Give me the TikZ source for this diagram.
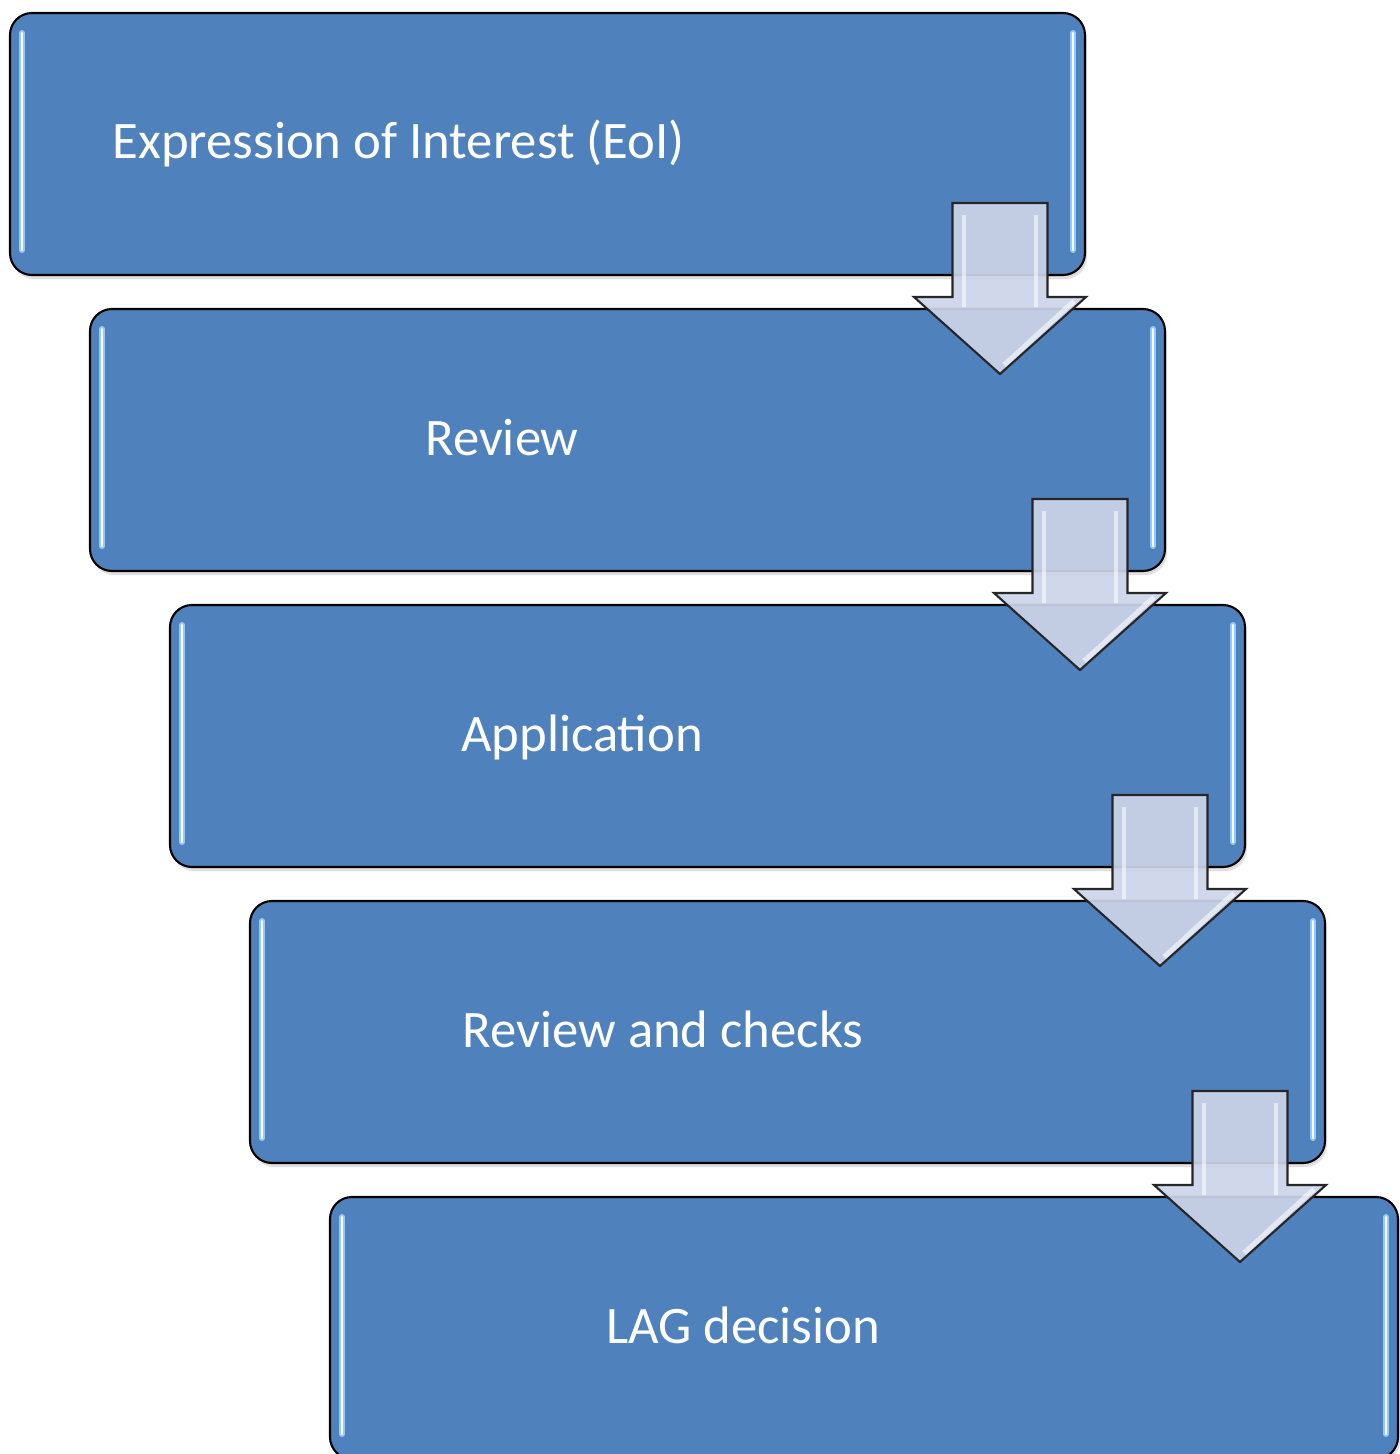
\documentclass[tikz,border=0pt]{standalone}
\usepackage{fontspec}
\setmainfont{Carlito}
\usepackage{tikz}
\usetikzlibrary{positioning,calc,shadows}

\definecolor{boxblue}{RGB}{79,129,189}
\definecolor{glossblue}{RGB}{150,200,250}
\definecolor{arrowfill}{RGB}{204,212,232}

% down arrow hanging at a coordinate on the lower edge of a box
\newcommand{\flowarrow}[1]{%
  \draw[flow] ($(#1)+(-0.475,0.72)$) -- ++(0.95,0) -- ++(0,-0.94) -- ++(0.385,0)
    -- ($(#1)+(0,-0.99)$) -- ($(#1)+(-0.86,-0.22)$) -- ++(0.385,0) -- cycle;
  \draw[shine] ($(#1)+(-0.36,0.6)$) -- ($(#1)+(-0.36,-0.32)$);
  \draw[shine] ($(#1)+(0.36,0.6)$) -- ($(#1)+(0.36,-0.32)$);
  \draw[shine] ($(#1)+(0.74,-0.26)$) -- ($(#1)+(0.04,-0.9)$);
}

\begin{document}
\begin{tikzpicture}[
  box/.style={draw=black, line width=0.6pt, rounded corners=0.22cm, fill=boxblue,
              minimum width=10.75cm, minimum height=2.62cm, outer sep=0pt,
              drop shadow={shadow xshift=0.02cm, shadow yshift=-0.04cm, opacity=0.25},
              path picture={
                \draw[gloss] ([xshift=0.12cm,yshift=-0.2cm]path picture bounding box.north west)
                  -- ([xshift=0.12cm,yshift=0.25cm]path picture bounding box.south west);
                \draw[gloss] ([xshift=-0.12cm,yshift=-0.2cm]path picture bounding box.north east)
                  -- ([xshift=-0.12cm,yshift=0.25cm]path picture bounding box.south east);
              }},
  gloss/.style={draw=glossblue, line width=1.7pt, line cap=round,
                postaction={draw=white, line width=0.6pt}},
  flow/.style={draw=black!85, line width=0.6pt, fill=arrowfill, fill opacity=0.92,
               line join=miter},
  shine/.style={draw=white, line width=1.4pt, opacity=0.55},
  lbl/.style={text=white, font=\fontsize{15}{18}\selectfont, inner sep=0pt}
]
  \useasboundingbox (0,0) rectangle (14,-14.54);

  % Step 1: EoI
  \node[box] (box1) at (5.475,-1.44) {};
  \node[lbl, anchor=base west] (t1) at ([xshift=1.02cm,yshift=-0.14cm]box1.west)
    {Expression of Interest (EoI)};

  % Step 2: review
  \node[box, below=0.34cm of box1, xshift=0.8cm] (box2) {};
  \node[lbl, anchor=base] (t2) at ([xshift=4.12cm,yshift=-0.15cm]box2.west) {Review};

  % Step 3: application
  \node[box, below=0.34cm of box2, xshift=0.8cm] (box3) {};
  \node[lbl, anchor=base] (t3) at ([xshift=4.12cm,yshift=-0.15cm]box3.west) {Application};

  % Step 4: review and checks
  \node[box, below=0.34cm of box3, xshift=0.8cm] (box4) {};
  \node[lbl, anchor=base] (t4) at ([xshift=4.13cm,yshift=-0.15cm]box4.west) {Review and checks};

  % Step 5: LAG decision
  \node[box, minimum width=10.68cm, below=0.34cm of box4, xshift=0.765cm] (box5) {};
  \node[lbl, anchor=base] (t5) at ([xshift=4.13cm,yshift=-0.15cm]box5.west) {LAG decision};

  % Arrows between the steps
  \coordinate (a1) at ([xshift=-0.85cm]box1.south east);
  \coordinate (a2) at ([xshift=-0.85cm]box2.south east);
  \coordinate (a3) at ([xshift=-0.85cm]box3.south east);
  \coordinate (a4) at ([xshift=-0.85cm]box4.south east);
  \flowarrow{a1}
  \flowarrow{a2}
  \flowarrow{a3}
  \flowarrow{a4}
\end{tikzpicture}
\end{document}
